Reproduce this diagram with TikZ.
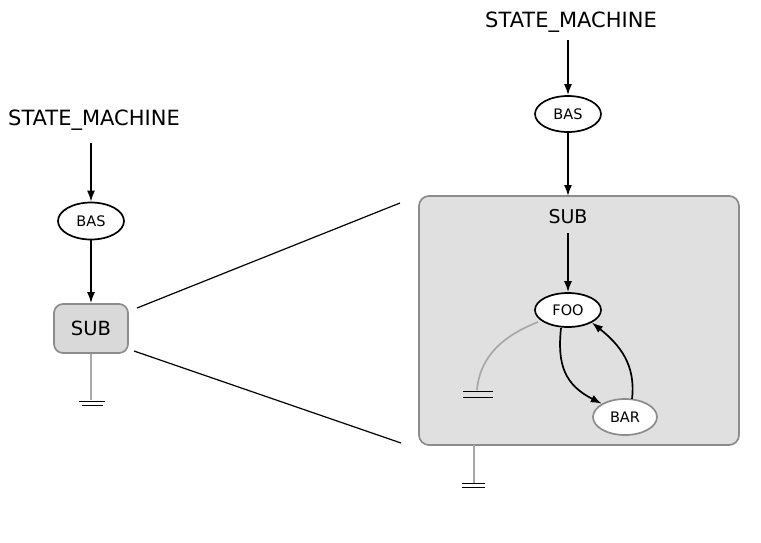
\documentclass[tikz,border=0pt]{standalone}
\usepackage{fontspec}
\setmainfont{DejaVu Sans}
\usetikzlibrary{arrows.meta,shapes.geometric}
\definecolor{edgegray}{HTML}{8C8C8C}
\definecolor{lightgray2}{HTML}{A8A8A8}
\definecolor{subfill}{HTML}{D9D9D9}
\definecolor{boxfill}{HTML}{E0E0E0}
\tikzset{
  title/.style={inner sep=0pt,font=\fontsize{21}{25}\selectfont},
  state/.style={ellipse,draw,line width=1.7pt,fill=white,minimum width=66pt,minimum height=37pt,inner sep=0pt,font=\fontsize{14.5}{16}\selectfont},
  flow/.style={line width=1.7pt,-{Latex[length=11pt,width=8pt]}},
  grayline/.style={lightgray2,line width=1.7pt},
  gnd/.style={line width=1pt},
  zoomline/.style={line width=1.2pt}
}
\begin{document}
\begin{tikzpicture}[x=1pt,y=-1pt]
\useasboundingbox (0,0) rectangle (761,542);
% left side
\node[title] (t1) at (94,120) {STATE\_MACHINE};
\coordinate (t1s) at (91,143);
\node[state] (bas1) at (91,221) {BAS};
\node[draw=edgegray,fill=subfill,line width=1.7pt,rounded corners=9pt,minimum width=74pt,minimum height=49pt,inner sep=0pt,font=\fontsize{19.5}{22}\selectfont] (sub1) at (91,328.5) {SUB};
\coordinate (g1) at (91,400);
\draw[flow] (t1s) -- (bas1);
\draw[flow] (bas1) -- (sub1);
\draw[grayline] (sub1.south) -- (g1);
\draw[gnd] (79,401) -- (105,401) (82,405) -- (103,405);
% right side
\node[title] (t2) at (571,22) {STATE\_MACHINE};
\coordinate (t2s) at (568,40);
\node[state,minimum height=36pt] (bas2) at (568,114) {BAS};
\node[draw=edgegray,fill=boxfill,line width=1.7pt,rounded corners=10pt,minimum width=320pt,minimum height=249pt,inner sep=0pt] (box) at (579,320.5) {};
\node[inner sep=0pt,font=\fontsize{19}{22}\selectfont] (sub2) at (568,217) {SUB};
\coordinate (boxtop) at (568,196);
\draw[flow] (t2s) -- (bas2);
\draw[flow] (bas2) -- (boxtop);
\node[state,minimum height=34pt] (foo) at (568,310) {FOO};
\node[state,draw=edgegray,minimum width=64pt,minimum height=36pt] (bar) at (625,417) {BAR};
\coordinate (subs) at (568,233);
\draw[flow] (subs) -- (foo);
\draw[flow] (561,328) .. controls (557,365) and (565,385) .. (bar.north west);
\draw[flow] (632,399) .. controls (636,365) and (620,345) .. (foo.south east);
\coordinate (g2) at (477,390);
\draw[grayline] (538,322) .. controls (505,335) and (480,355) .. (g2);
\draw[gnd] (463,391) -- (493,391) (463,397) -- (493,397);
\coordinate (g3) at (474,483);
\draw[grayline] (474,445) -- (g3);
\draw[gnd] (462,483) -- (485,483) (462,487) -- (485,487);
% zoom lines
\coordinate (z1) at (400,203);
\coordinate (z2) at (401,443);
\draw[zoomline] (137,308) -- (z1);
\draw[zoomline] (134,351) -- (z2);
\end{tikzpicture}
\end{document}
